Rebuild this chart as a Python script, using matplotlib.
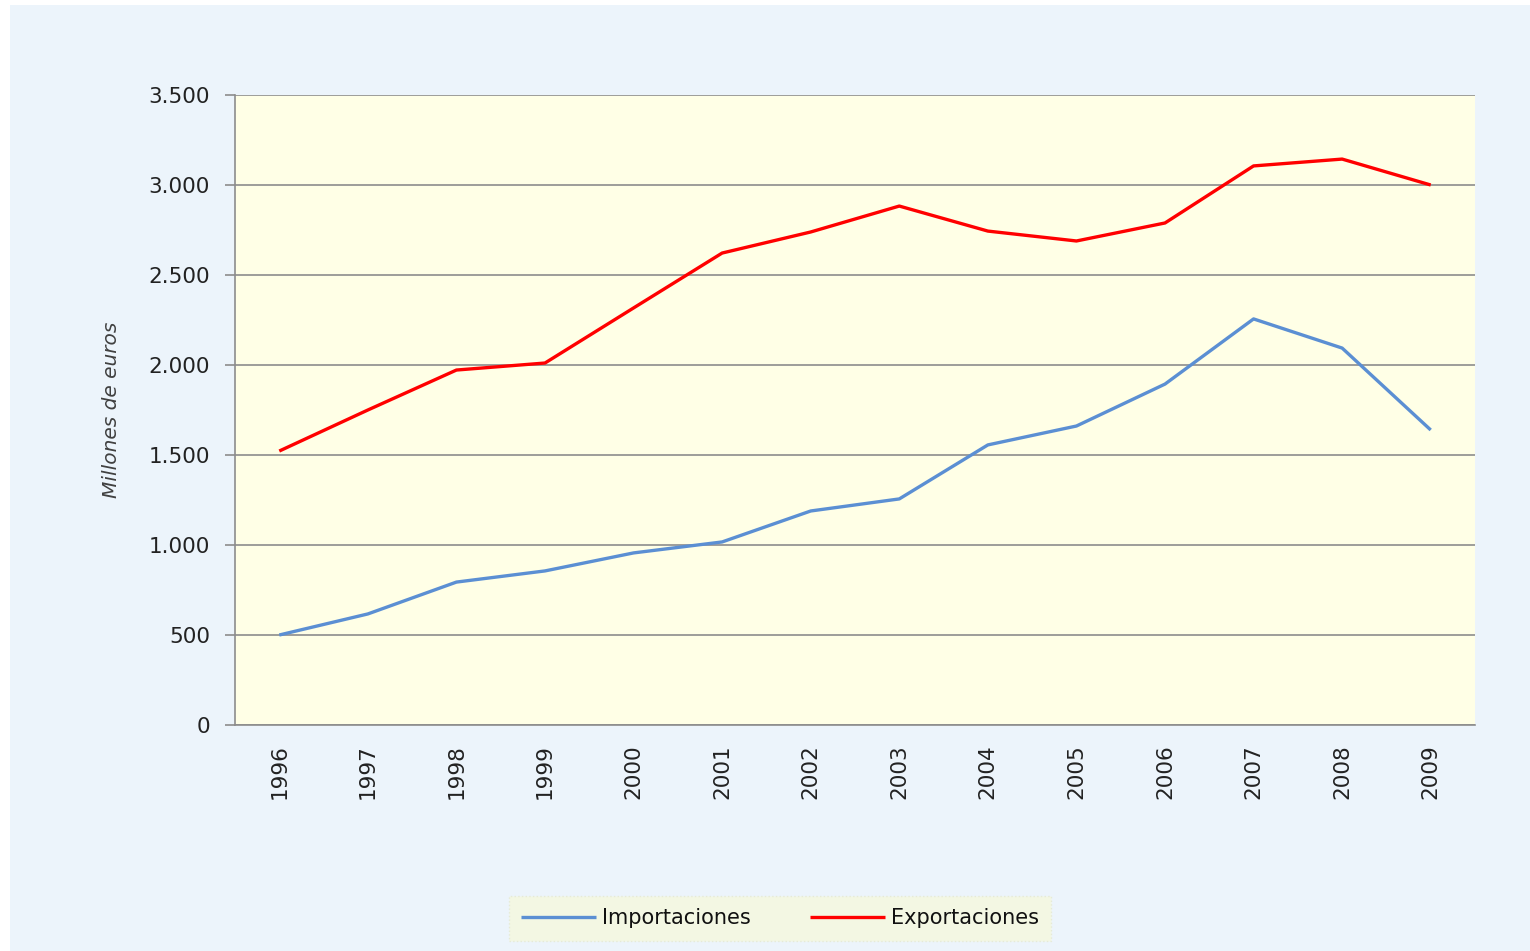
import matplotlib.pyplot as plt
from matplotlib.patches import Rectangle

years = ["1996", "1997", "1998", "1999", "2000", "2001", "2002",
         "2003", "2004", "2005", "2006", "2007", "2008", "2009"]
importaciones = [500, 617, 794, 856, 956, 1017, 1189,
                 1256, 1556, 1661, 1894, 2256, 2094, 1639]
exportaciones = [1522, 1750, 1972, 2011, 2317, 2622, 2739,
                 2883, 2744, 2689, 2789, 3106, 3144, 3000]
yticks = [0, 500, 1000, 1500, 2000, 2500, 3000, 3500]
ytick_labels = ["0", "500", "1.000", "1.500", "2.000", "2.500", "3.000", "3.500"]

fig = plt.figure(figsize=(15.3, 9.51), dpi=100)
fig.patch.set_facecolor("white")
# light blue chart area, leaving a thin white strip at left and top
fig.patches.append(Rectangle((10 / 1530, 0), 1 - 10 / 1530, 1 - 5 / 951,
                             transform=fig.transFigure, facecolor="#ECF4FB",
                             edgecolor="none", zorder=-10))

ax = fig.add_axes([235 / 1530, 1 - 725 / 951, 1240 / 1530, 630 / 951])
ax.set_facecolor("#FFFFE6")

x = list(range(len(years)))
ax.plot(x, importaciones, color="#5B8FD3", lw=2.4, label="Importaciones", solid_capstyle="butt")
ax.plot(x, exportaciones, color="#FF0000", lw=2.4, label="Exportaciones", solid_capstyle="butt")

ax.set_xlim(-0.5, len(years) - 0.5)
ax.set_ylim(0, 3500)
ax.set_yticks(yticks)
ax.set_yticklabels(ytick_labels)
ax.set_xticks(x)
ax.set_xticklabels(years, rotation=90)

ax.grid(axis="y", color="#8C8C8C", lw=1.2)
ax.set_axisbelow(True)
for s in ["top", "right"]:
    ax.spines[s].set_visible(False)
for s in ["left", "bottom"]:
    ax.spines[s].set_color("#8C8C8C")
    ax.spines[s].set_linewidth(1.2)

ax.tick_params(axis="y", length=7, color="#8C8C8C", width=1.2, labelsize=15.5,
               labelcolor="#222222", pad=11)
ax.tick_params(axis="x", length=0, labelsize=15.5, labelcolor="#222222", pad=14)

ax.set_ylabel("Millones de euros", fontsize=14.5, style="italic", color="#404040", labelpad=20)

leg = fig.legend(loc="center", bbox_to_anchor=(780 / 1530, 1 - 918 / 951), ncol=2,
                 fontsize=15, frameon=True, fancybox=False, handlelength=3.6,
                 columnspacing=2.8, borderpad=0.6, borderaxespad=0, handletextpad=0.3)
leg.get_frame().set_facecolor("#F6F8DE")
leg.get_frame().set_edgecolor("#E4E8D0")
leg.get_frame().set_linestyle(":")
for t in leg.get_texts():
    t.set_color("#111111")

fig.savefig("out.png", dpi=100, facecolor=fig.get_facecolor())
